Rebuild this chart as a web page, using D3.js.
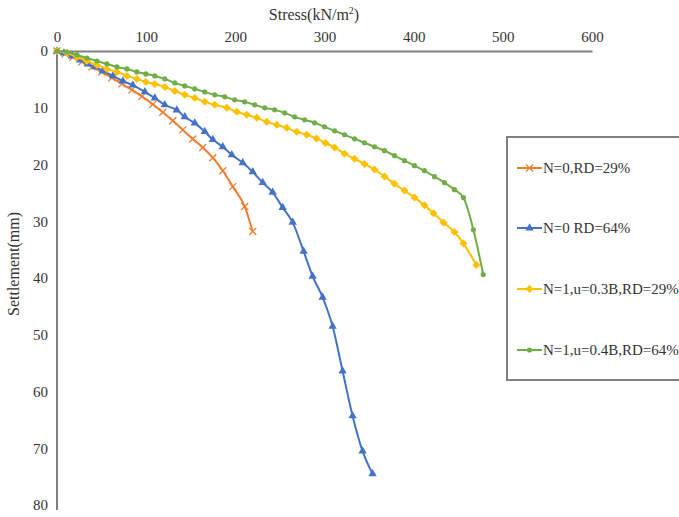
<!DOCTYPE html>
<html>
<head>
<meta charset="utf-8">
<script src="https://cdn.jsdelivr.net/npm/d3@7"></script>
<style>
  html, body { margin: 0; padding: 0; background: #fff; }
  svg { display: block; font-family: "Liberation Serif", "DejaVu Serif", serif; }
</style>
</head>
<body>
<div id="chart"></div>
<script>
// series data: stress (kN/m2) and settlement (mm)
const orangeStress = [0, 9, 17.9, 28, 39.2, 50.4, 61.6, 72.8, 84, 95.2, 107.5, 118.7, 129.9, 141.1, 152.3, 163.5, 174.7, 185.9, 197.1, 210.5, 219.5];
const orangeSettle = [0, 0.5, 1.05, 1.9, 2.8, 3.7, 4.7, 5.8, 6.85, 8.0, 9.4, 10.8, 12.3, 13.9, 15.5, 17.0, 18.8, 21.1, 23.9, 27.4, 31.8];

const blueStress = [0, 7.8, 16.8, 25.8, 34.7, 42.6, 51.5, 62.7, 73.9, 85.1, 98.5, 109.7, 120.9, 134.4, 143.3, 154.5, 165.7, 174.7, 185.9, 196, 208.3, 219.5, 230.7, 241.9, 253.1, 264.3, 276.6, 286.7, 297.9, 309.1, 320.3, 331.5, 342.7, 353.9];
const blueSettle = [0, 0.35, 0.88, 1.6, 2.3, 2.8, 3.5, 4.4, 5.3, 6.0, 7.2, 8.3, 9.5, 10.4, 11.6, 12.7, 14.2, 15.6, 16.9, 18.3, 19.7, 21.3, 23.2, 24.9, 27.6, 30.2, 35.3, 39.7, 43.4, 48.5, 56.4, 64.3, 70.5, 74.5];

const yellowStress = [0, 11.2, 22.4, 33.6, 44.8, 56, 67.2, 78.4, 89.6, 99.7, 109.7, 120.9, 132.1, 143.3, 154.5, 165.7, 176.9, 190.4, 201.6, 212.8, 224, 235.2, 246.4, 257.6, 268.8, 280, 291.2, 301.2, 311.3, 322.5, 333.7, 344.9, 356.1, 367.3, 378.5, 389.7, 400.9, 412.1, 422.2, 433.4, 445.7, 455.8, 470.3];
const yellowSettle = [0, 0.35, 1.05, 1.76, 2.46, 3.16, 3.69, 4.39, 4.92, 5.45, 5.8, 6.33, 7.03, 7.73, 8.26, 8.96, 9.49, 10.02, 10.72, 11.25, 11.78, 12.48, 13.01, 13.54, 14.24, 14.76, 15.4, 16.2, 17.0, 18.1, 19.0, 19.9, 20.9, 22.1, 23.4, 24.6, 25.8, 27.2, 28.6, 30.2, 31.9, 33.9, 37.7];

const greenStress = [0, 11.2, 22.4, 33.6, 44.8, 56, 67.2, 78.4, 89.6, 99.7, 109.7, 120.9, 132.1, 143.3, 154.5, 165.7, 176.9, 188.1, 199.3, 210.5, 221.7, 232.9, 244.1, 255.3, 266.5, 277.7, 288.9, 300.1, 311.3, 322.5, 333.7, 344.9, 356.1, 367.3, 378.5, 389.7, 400.9, 412.1, 423.3, 434.5, 445.7, 455.8, 467, 478];
const greenSettle = [0, 0.18, 0.7, 1.23, 1.76, 2.28, 2.81, 3.16, 3.69, 4.04, 4.39, 4.92, 5.62, 6.15, 6.68, 7.21, 7.73, 8.08, 8.61, 8.96, 9.49, 10.02, 10.37, 10.9, 11.6, 12.13, 12.65, 13.36, 14.06, 14.76, 15.47, 16.17, 16.87, 17.57, 18.45, 19.33, 20.21, 21.09, 22.14, 23.2, 24.43, 25.83, 31.5, 39.4];

const seriesNames = ['N=0,RD=29%', 'N=0 RD=64%', 'N=1,u=0.3B,RD=29%', 'N=1,u=0.4B,RD=64%'];
const xTicks = [0, 100, 200, 300, 400, 500, 600];
const yTicks = [0, 10, 20, 30, 40, 50, 60, 70, 80];

const width = 679, height = 517;
const margin = { left: 57, top: 51, right: 87, bottom: 12 };

const series = [
  { name: seriesNames[0], xs: orangeStress, ys: orangeSettle, color: '#ED7D31', marker: 'cross' },
  { name: seriesNames[1], xs: blueStress, ys: blueSettle, color: '#4472C4', marker: 'triangle' },
  { name: seriesNames[2], xs: yellowStress, ys: yellowSettle, color: '#FFC000', marker: 'diamond' },
  { name: seriesNames[3], xs: greenStress, ys: greenSettle, color: '#70AD47', marker: 'circle' }
];

const svg = d3.select('#chart').append('svg')
  .attr('width', width)
  .attr('height', height);

const x = d3.scaleLinear().domain([0, 600]).range([margin.left, width - margin.right]);
const y = d3.scaleLinear().domain([0, 80]).range([margin.top, 505]);

// axes
const gx = svg.append('g').attr('transform', `translate(0,${margin.top})`)
  .call(d3.axisTop(x).tickValues(xTicks).tickSize(0).tickPadding(9));
const gy = svg.append('g').attr('transform', `translate(${margin.left},0)`)
  .call(d3.axisLeft(y).tickValues(yTicks).tickSize(0).tickPadding(9));

[gx, gy].forEach(g => {
  g.select('.domain').attr('stroke', '#808080').attr('stroke-width', 2);
  g.selectAll('text')
    .attr('font-family', '"Liberation Serif", serif')
    .attr('font-size', 15)
    .attr('fill', '#333');
});
gy.select('.domain').attr('d', `M0,${margin.top}V510`);

// axis titles
svg.append('text')
  .attr('x', 314).attr('y', 20)
  .attr('text-anchor', 'middle')
  .attr('font-size', 16)
  .attr('fill', '#333')
  .html('Stress(kN/m<tspan dy="-6" font-size="10">2</tspan><tspan dy="6">)</tspan>');

svg.append('text')
  .attr('transform', 'translate(19,264) rotate(-90)')
  .attr('text-anchor', 'middle')
  .attr('font-size', 16)
  .attr('fill', '#333')
  .text('Settlement(mm)');

function drawMarker(g, type, color) {
  if (type === 'cross') {
    g.append('path').attr('d', 'M-3.5,-3.5L3.5,3.5M-3.5,3.5L3.5,-3.5')
      .attr('stroke', color).attr('stroke-width', 1.3).attr('fill', 'none');
  } else if (type === 'triangle') {
    g.append('path').attr('d', d3.symbol(d3.symbolTriangle, 30)())
      .attr('fill', color);
  } else if (type === 'diamond') {
    g.append('path').attr('d', 'M0,-4L4,0L0,4L-4,0Z').attr('fill', color);
  } else {
    g.append('circle').attr('r', 2.6).attr('fill', color);
  }
}

const line = d3.line().x(d => x(d[0])).y(d => y(d[1])).curve(d3.curveMonotoneX);

series.forEach(s => {
  const pts = s.xs.map((v, i) => [v, s.ys[i]]);
  svg.append('path')
    .datum(pts)
    .attr('d', line)
    .attr('fill', 'none')
    .attr('stroke', s.color)
    .attr('stroke-width', 2);
  pts.forEach(p => {
    const g = svg.append('g').attr('transform', `translate(${x(p[0])},${y(p[1])})`);
    drawMarker(g, s.marker, s.color);
  });
});

// legend
const legend = svg.append('g');
legend.append('rect')
  .attr('x', 507).attr('y', 137)
  .attr('width', 190).attr('height', 243)
  .attr('fill', '#fff')
  .attr('stroke', '#808080')
  .attr('stroke-width', 2);

const legendY = [168, 228, 289, 350];
series.forEach((s, i) => {
  const ly = legendY[i];
  legend.append('line')
    .attr('x1', 517).attr('x2', 542)
    .attr('y1', ly).attr('y2', ly)
    .attr('stroke', s.color).attr('stroke-width', 2);
  const g = legend.append('g').attr('transform', `translate(529.5,${ly})`);
  drawMarker(g, s.marker, s.color);
  legend.append('text')
    .attr('x', 543).attr('y', ly + 5)
    .attr('font-size', 15)
    .attr('fill', '#333')
    .text(s.name);
});
</script>
</body>
</html>
